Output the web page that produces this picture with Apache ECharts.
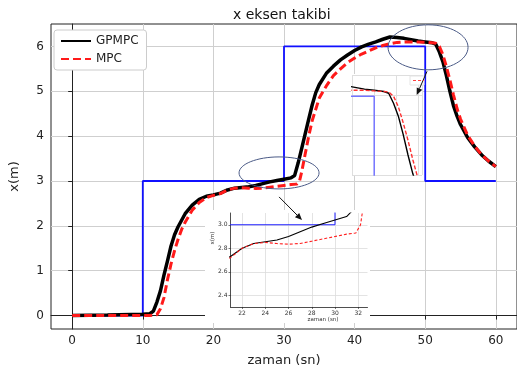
<!DOCTYPE html>
<html>
<head>
<meta charset="utf-8">
<script src="https://cdn.jsdelivr.net/npm/echarts@6/dist/echarts.min.js"></script>
<style>
html, body { margin: 0; padding: 0; background: #fff; }
#chart { width: 517px; height: 372px; }
</style>
</head>
<body>
<div id="chart"></div>
<script>
// zaman (sn) / x(m) degerleri
var tGpmpc = [0, 5, 10, 11, 11.5, 12, 12.5, 13, 13.5, 14, 14.5, 15, 16, 17, 18, 19, 20, 21, 22, 23, 24, 25, 26, 27, 28, 29, 30, 31, 31.5, 32, 32.5, 33, 33.5, 34, 34.5, 35, 36, 37, 38, 39, 40, 41, 42, 43, 44, 45, 46, 47, 48, 49, 50, 51, 51.5, 52, 52.5, 53, 53.5, 54, 54.5, 55, 56, 57, 58, 59, 60];
var gpmpc = [0, 0.01, 0.03, 0.04, 0.1, 0.3, 0.55, 0.9, 1.22, 1.55, 1.8, 1.98, 2.27, 2.46, 2.59, 2.66, 2.69, 2.73, 2.8, 2.84, 2.855, 2.87, 2.9, 2.94, 2.98, 3.01, 3.04, 3.07, 3.12, 3.4, 3.72, 4.05, 4.38, 4.7, 4.97, 5.15, 5.4, 5.56, 5.7, 5.81, 5.91, 5.99, 6.05, 6.1, 6.16, 6.21, 6.2, 6.18, 6.15, 6.12, 6.1, 6.08, 6.05, 5.88, 5.66, 5.35, 5.0, 4.68, 4.45, 4.26, 3.97, 3.76, 3.58, 3.44, 3.32];

var tMpc = [0, 5, 10, 11, 12, 12.5, 13, 13.5, 14, 14.5, 15, 15.5, 16, 17, 18, 19, 20, 21, 22, 23, 24, 25, 26, 27, 28, 29, 30, 31, 31.8, 32.2, 32.5, 33, 33.5, 34, 34.5, 35, 36, 37, 38, 39, 40, 41, 42, 43, 44, 45, 46, 47, 48, 49, 50, 51, 51.5, 52, 52.5, 53, 53.5, 54, 54.5, 55, 56, 57, 58, 59, 60];
var mpc = [0, 0, 0, 0, 0.02, 0.15, 0.4, 0.8, 1.15, 1.45, 1.7, 1.92, 2.08, 2.35, 2.52, 2.63, 2.68, 2.72, 2.8, 2.84, 2.85, 2.84, 2.835, 2.84, 2.86, 2.88, 2.9, 2.92, 2.93, 3.0, 3.2, 3.6, 4.0, 4.35, 4.6, 4.85, 5.12, 5.35, 5.5, 5.64, 5.74, 5.83, 5.9, 5.97, 6.02, 6.06, 6.09, 6.1, 6.1, 6.1, 6.09, 6.08, 6.07, 6.0, 5.82, 5.55, 5.25, 4.92, 4.62, 4.38, 4.02, 3.78, 3.58, 3.44, 3.32];

var tRef = [0, 10, 10, 30, 30, 50, 50, 60];
var xRef = [0, 0, 3, 3, 6, 6, 3, 3];

var xTicks = [0, 10, 20, 30, 40, 50, 60];
var yTicks = [0, 1, 2, 3, 4, 5, 6];
var zoomXTicks = [22, 24, 26, 28, 30, 32];
var zoomYTicks = [2.4, 2.6, 2.8, 3.0];

function pairs(t, v) {
    var out = [];
    for (var i = 0; i < t.length; i++) out.push([t[i], v[i]]);
    return out;
}

var font = 'DejaVu Sans';
var chart = echarts.init(document.getElementById('chart'));

function line(name, t, v, idx, color, width, type, z) {
    return {
        name: name, type: 'line', data: pairs(t, v),
        xAxisIndex: idx, yAxisIndex: idx,
        symbol: 'none', animation: false, z: z,
        lineStyle: { color: color, width: width, type: type },
        itemStyle: { color: color }
    };
}

var option = {
    animation: false,
    title: {
        text: 'x eksen takibi', left: 228, top: 3,
        textStyle: { fontFamily: font, fontSize: 14, fontWeight: 'normal', color: '#111' }
    },
    legend: {
        data: ['GPMPC', 'MPC'], orient: 'vertical', left: 54, top: 30,
        itemWidth: 30, itemHeight: 10, itemGap: 6,
        itemStyle: { opacity: 0 },
        backgroundColor: '#fff', borderColor: '#ccc', borderWidth: 1, borderRadius: 3,
        padding: [5, 8, 5, 6],
        textStyle: { fontFamily: font, fontSize: 12, color: '#222' }
    },
    grid: [
        { left: 48, top: 24, width: 471, height: 305, show: true, borderColor: '#222', borderWidth: 1, backgroundColor: 'transparent' },
        { left: 230.5, top: 213, width: 137, height: 94 },
        { left: 352, top: 75, width: 70, height: 100 }
    ],
    xAxis: [
        {
            type: 'value', gridIndex: 0, min: -3, max: 63,
            name: 'zaman (sn)', nameLocation: 'middle', nameGap: 25,
            nameTextStyle: { fontFamily: font, fontSize: 13, color: '#222' },
            axisLine: { lineStyle: { color: '#222' } },
            axisTick: { length: 4, customValues: xTicks, lineStyle: { color: '#222' } },
            axisLabel: { customValues: xTicks, fontFamily: font, fontSize: 12, color: '#222', margin: 6 },
            splitLine: { show: true, lineStyle: { color: '#cfcfcf', width: 1 } }
        },
        {
            type: 'value', gridIndex: 1, min: 21, max: 32.8, z: 5,
            axisLine: { onZero: false, lineStyle: { color: '#222', width: 0.8 } },
            axisTick: { length: 2, customValues: zoomXTicks, lineStyle: { color: '#222', width: 0.6 } },
            axisLabel: { customValues: zoomXTicks, fontFamily: font, fontSize: 6, color: '#333', margin: 3 },
            splitLine: { show: true, lineStyle: { color: '#dcdcdc', width: 0.8 } }
        },
        {
            type: 'value', gridIndex: 2, min: 47.7, max: 54.95, interval: 2.3, z: 5,
            axisLine: { show: false }, axisTick: { show: false }, axisLabel: { show: false },
            splitLine: { show: true, lineStyle: { color: '#dedede', width: 1 } }
        }
    ],
    yAxis: [
        {
            type: 'value', gridIndex: 0, min: -0.3, max: 6.5,
            name: 'x(m)', nameLocation: 'middle', nameGap: 30, nameRotate: 90,
            nameTextStyle: { fontFamily: font, fontSize: 13, color: '#222' },
            axisLine: { show: true, lineStyle: { color: '#222' } },
            axisTick: { show: true, length: 4, customValues: yTicks, lineStyle: { color: '#222' } },
            axisLabel: { customValues: yTicks, fontFamily: font, fontSize: 12, color: '#222', margin: 7 },
            splitLine: { show: true, lineStyle: { color: '#cfcfcf', width: 1 } }
        },
        {
            type: 'value', gridIndex: 1, min: 2.3, max: 3.1, z: 5,
            axisLine: { show: true, onZero: false, lineStyle: { color: '#222', width: 0.8 } },
            axisTick: { show: true, length: 2, customValues: zoomYTicks, lineStyle: { color: '#222', width: 0.6 } },
            axisLabel: {
                customValues: zoomYTicks, fontFamily: font, fontSize: 6, color: '#333', margin: 3,
                formatter: function (v) { return v.toFixed(1); }
            },
            splitLine: { show: true, lineStyle: { color: '#dcdcdc', width: 0.8 } }
        },
        {
            type: 'value', gridIndex: 2, min: 4.66, max: 6.36, interval: 0.34, z: 5,
            axisLine: { show: false }, axisTick: { show: false }, axisLabel: { show: false },
            splitLine: { show: true, lineStyle: { color: '#dedede', width: 1 } }
        }
    ],
    series: [
        line('ref', tRef, xRef, 0, '#1010ff', 1.8, 'solid', 2),
        line('GPMPC', tGpmpc, gpmpc, 0, '#000', 3.5, 'solid', 3),
        line('MPC', tMpc, mpc, 0, '#ff1a1a', 3, [8, 4], 4),
        line('ref', tRef, xRef, 1, '#2020ff', 1, 'solid', 6),
        line('GPMPC', tGpmpc, gpmpc, 1, '#000', 1.1, 'solid', 6),
        line('MPC', tMpc, mpc, 1, '#ff2020', 1.1, [3, 2], 6),
        line('ref', tRef, xRef, 2, '#7474ff', 1.5, 'solid', 6),
        line('GPMPC', tGpmpc, gpmpc, 2, '#000', 1.4, 'solid', 6),
        line('MPC', tMpc, mpc, 2, '#ff3030', 1.4, [4, 2], 6)
    ]
};
chart.setOption(option);

// buyutme alanlari, elipsler ve oklar
function px(idx, p) { return chart.convertToPixel({ gridIndex: idx }, p); }
function arrow(a, b) {
    var ang = Math.atan2(b[1] - a[1], b[0] - a[0]), L = 7, W = 3;
    var bx = b[0] - L * Math.cos(ang), by = b[1] - L * Math.sin(ang);
    return [
        { type: 'line', z: 20, shape: { x1: a[0], y1: a[1], x2: bx, y2: by }, style: { stroke: '#111', lineWidth: 1 } },
        { type: 'polygon', z: 20, shape: { points: [b, [bx - W * Math.sin(ang), by + W * Math.cos(ang)], [bx + W * Math.sin(ang), by - W * Math.cos(ang)]] }, style: { fill: '#111' } }
    ];
}
var e1 = px(0, [29.3, 3.18]);
var e2 = px(0, [50.4, 5.98]);
var g = [
    { type: 'rect', z: 1, silent: true, shape: { x: 205, y: 210, width: 165, height: 113 }, style: { fill: '#fff' } },
    { type: 'rect', z: 1, silent: true, shape: { x: 351, y: 74, width: 72, height: 102 }, style: { fill: '#fff' } },
    { type: 'text', z: 20, x: 213, y: 238, rotation: Math.PI / 2, style: { text: 'x(m)', fontFamily: font, fontSize: 5.5, fill: '#333', align: 'center', verticalAlign: 'middle' } },
    { type: 'text', z: 20, x: 323, y: 320, style: { text: 'zaman (sn)', fontFamily: font, fontSize: 5.5, fill: '#333', align: 'center', verticalAlign: 'middle' } },
    { type: 'rect', z: 20, shape: { x: 410, y: 76, width: 14, height: 9 }, style: { fill: '#fff', stroke: '#e4e4e4', lineWidth: 1 } },
    { type: 'line', z: 21, shape: { x1: 413, y1: 80.5, x2: 424, y2: 80.5 }, style: { stroke: '#ff4040', lineWidth: 1.2, lineDash: [3, 2] } },
    { type: 'ellipse', z: 20, shape: { cx: e1[0], cy: e1[1], rx: 40, ry: 16 }, style: { fill: 'none', stroke: '#4a5a86', lineWidth: 1 } },
    { type: 'ellipse', z: 20, shape: { cx: e2[0], cy: e2[1], rx: 40, ry: 22.5 }, style: { fill: 'none', stroke: '#4a5a86', lineWidth: 1 } }
];
g = g.concat(arrow([e1[0], e1[1] + 24], px(1, [27.16, 3.04])));
g = g.concat(arrow([e2[0] - 1, e2[1] + 24], px(2, [54.4, 6.02])));
chart.setOption({ graphic: { elements: g } });
</script>
</body>
</html>
